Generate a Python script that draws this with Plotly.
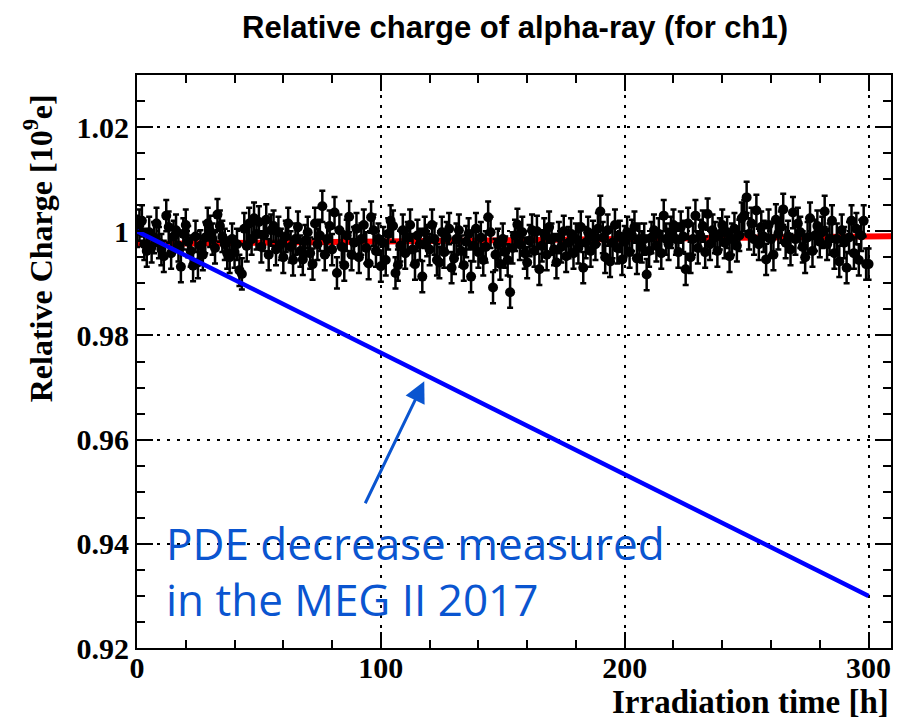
import plotly.graph_objects as go

# ---------------- data ----------------
time_h = list(range(0, 301))
charge = [
    # 0-9
    1.0000, 1.0012, 1.0020, 0.9975, 0.9962, 0.9998, 0.9970, 0.9988, 1.0015, 0.9978,
    # 10-19
    0.9965, 0.9952, 1.0030, 1.0008, 0.9958, 0.9990, 1.0002, 0.9972, 0.9932, 0.9995,
    # 20-29
    1.0012, 0.9980, 0.9962, 0.9934, 0.9990, 0.9940, 0.9972, 0.9955, 0.9988, 1.0015,
    # 30-39
    1.0000, 0.9985, 0.9968, 1.0032, 1.0010, 0.9990, 0.9975, 0.9958, 0.9950, 0.9985,
    # 40-49
    0.9960, 0.9975, 0.9925, 0.9918, 1.0005, 0.9972, 1.0015, 0.9985, 1.0025, 0.9995,
    # 50-59
    1.0018, 0.9970, 0.9992, 1.0022, 0.9955, 1.0002, 1.0010, 0.9965, 0.9998, 0.9975,
    # 60-69
    0.9950, 0.9990, 1.0015, 0.9970, 0.9945, 0.9985, 1.0008, 0.9962, 0.9946, 0.9982,
    # 70-79
    0.9998, 0.9958, 0.9937, 1.0015, 0.9975, 0.9992, 1.0048, 0.9955, 0.9985, 1.0010,
    # 80-89
    0.9965, 1.0036, 0.9920, 1.0002, 0.9970, 0.9935, 0.9992, 1.0028, 0.9955, 0.9978,
    # 90-99
    1.0005, 0.9950, 0.9985, 1.0012, 0.9968, 0.9938, 1.0027, 1.0002, 0.9962, 0.9985,
    # 100-109
    0.9933, 0.9978, 0.9945, 0.9995, 1.0020, 1.0010, 0.9920, 0.9935, 0.9972, 1.0002,
    # 110-119
    0.9958, 0.9988, 1.0012, 0.9965, 0.9937, 0.9992, 0.9975, 0.9913, 0.9998, 0.9982,
    # 120-129
    0.9965, 1.0012, 0.9985, 0.9945, 0.9940, 0.9998, 0.9960, 0.9988, 1.0005, 0.9930,
    # 130-139
    0.9948, 0.9985, 1.0002, 0.9962, 0.9935, 0.9980, 0.9995, 0.9913, 0.9972, 1.0005,
    # 140-149
    0.9960, 0.9988, 0.9945, 0.9970, 1.0027, 0.9998, 0.9892, 0.9955, 0.9975, 0.9937,
    # 150-159
    0.9985, 0.9960, 0.9945, 0.9883, 0.9968, 0.9992, 1.0013, 0.9975, 0.9998, 0.9958,
    # 160-169
    0.9940, 0.9982, 1.0002, 0.9962, 1.0000, 0.9927, 0.9972, 0.9995, 0.9955, 1.0008,
    # 170-179
    0.9985, 0.9965, 0.9940, 0.9988, 0.9970, 1.0000, 0.9952, 0.9978, 0.9995, 0.9958,
    # 180-189
    0.9985, 0.9968, 1.0008, 0.9930, 0.9978, 0.9998, 0.9962, 0.9990, 0.9975, 1.0005,
    # 190-199
    1.0038, 0.9988, 0.9950, 1.0002, 0.9942, 0.9978, 1.0012, 0.9968, 0.9990, 0.9946,
    # 200-209
    0.9980, 0.9998, 0.9960, 0.9992, 1.0008, 0.9948, 0.9985, 0.9970, 0.9985, 0.9917,
    # 210-219
    0.9962, 0.9988, 1.0002, 0.9972, 0.9995, 0.9958, 1.0030, 0.9985, 0.9975, 0.9998,
    # 220-229
    1.0012, 0.9985, 0.9960, 1.0008, 0.9990, 0.9927, 1.0015, 0.9950, 0.9985, 1.0030,
    # 230-239
    0.9968, 0.9992, 1.0010, 0.9960, 1.0033, 0.9975, 1.0002, 0.9988, 0.9962, 0.9995,
    # 240-249
    1.0012, 0.9978, 0.9998, 0.9952, 0.9985, 1.0005, 0.9972, 0.9992, 1.0025, 1.0030,
    # 250-259
    1.0065, 0.9995, 1.0015, 0.9985, 1.0040, 0.9975, 1.0008, 0.9990, 0.9946, 1.0012,
    # 260-269
    0.9985, 0.9955, 1.0022, 0.9995, 1.0008, 1.0042, 0.9978, 0.9990, 0.9965, 1.0036,
    # 270-279
    0.9985, 1.0015, 0.9998, 0.9970, 0.9950, 0.9988, 1.0025, 0.9962, 0.9992, 1.0010,
    # 280-289
    0.9980, 0.9998, 1.0038, 0.9975, 0.9985, 1.0020, 0.9958, 0.9985, 0.9942, 1.0002,
    # 290-299
    0.9978, 0.9930, 0.9988, 1.0020, 0.9958, 1.0005, 0.9945, 0.9992, 1.0020, 0.9937,
    # 300
    0.9937,
]
charge_err = [0.0030] * len(charge)

# linear fit to the data (red)
fit_x = [0.0, 309.2]
fit_y = [0.99755, 0.99905]

# PDE decrease measured in MEG II 2017 (blue)
pde_x = [0.0, 300.0]
pde_y = [1.000, 0.930]

x_range = [0, 309.2]
y_range = [0.92, 1.03]
x_tickvals = [0, 100, 200, 300]
x_ticktext = ["0", "100", "200", "300"]
y_tickvals = [0.92, 0.94, 0.96, 0.98, 1.00, 1.02]
y_ticktext = ["0.92", "0.94", "0.96", "0.98", "1", "1.02"]

title_text = "Relative charge of alpha-ray (for ch1)"
xtitle_text = "Irradiation time [h]"
ytitle_text = "Relative Charge [10<sup>9</sup>e]"
note_line1 = "PDE decrease measured"
note_line2 = "in the MEG II 2017"

# ---------------- figure ----------------
SERIF = "Liberation Serif, Times New Roman, serif"
NOTE_BLUE = "#0a55d0"

fig = go.Figure()

fig.add_trace(go.Scatter(
    x=fit_x, y=fit_y, mode="lines",
    line=dict(color="#ff0000", width=6),
    showlegend=False, hoverinfo="skip",
))

fig.add_trace(go.Scatter(
    x=time_h, y=charge, mode="markers",
    marker=dict(color="black", size=10),
    error_y=dict(type="data", array=charge_err, visible=True,
                 color="black", thickness=2.5, width=3),
    showlegend=False,
))

fig.add_trace(go.Scatter(
    x=pde_x, y=pde_y, mode="lines",
    line=dict(color="#0000ff", width=4.5),
    showlegend=False, hoverinfo="skip",
))

axis_common = dict(
    showline=True, linecolor="black", linewidth=2, mirror="ticks",
    ticks="inside", tickcolor="black", tickwidth=2,
    showgrid=True, gridcolor="black", gridwidth=2, griddash="3px,7px",
    zeroline=False,
    tickfont=dict(family=SERIF, size=30, color="black", weight="bold"),
)

fig.update_xaxes(
    range=x_range, tickmode="array", tickvals=x_tickvals, ticktext=x_ticktext,
    ticklen=16, ticklabelstandoff=-8,
    minor=dict(dtick=20, tick0=0, ticks="inside", ticklen=8,
               tickcolor="black", tickwidth=2, showgrid=False),
    **axis_common,
)
fig.update_yaxes(
    range=y_range, tickmode="array", tickvals=y_tickvals, ticktext=y_ticktext,
    ticklen=16,
    minor=dict(dtick=0.005, tick0=0.92, ticks="inside", ticklen=8,
               tickcolor="black", tickwidth=2, showgrid=False),
    **axis_common,
)

fig.update_layout(
    width=904, height=721,
    margin=dict(l=137, r=11, t=75, b=73),
    paper_bgcolor="white", plot_bgcolor="white",
    showlegend=False,
)

# title
fig.add_annotation(
    text=title_text, xref="paper", yref="paper",
    x=0.501, y=(648 - 28) / 573, xanchor="center", yanchor="middle",
    showarrow=False,
    font=dict(family="Liberation Sans, Arial, sans-serif", size=31,
              color="black", weight="bold"),
)
# x title
fig.add_annotation(
    text=xtitle_text, xref="paper", yref="paper",
    x=1.0, y=(648 - 702) / 573, xanchor="right", yanchor="middle",
    showarrow=False,
    font=dict(family=SERIF, size=33, color="black", weight="bold"),
)
# y title
fig.add_annotation(
    text=ytitle_text, xref="paper", yref="paper",
    x=(38 - 137) / 756, y=(648 - 248) / 573, xanchor="center", yanchor="middle",
    textangle=-90, showarrow=False,
    font=dict(family=SERIF, size=32, color="black", weight="bold"),
)

# arrow
fig.add_annotation(
    x=117.8, y=0.9712, xref="x", yref="y",
    ax=93.3, ay=0.9475, axref="x", ayref="y",
    text="", showarrow=True, arrowhead=2, arrowsize=1.4,
    arrowwidth=3, arrowcolor=NOTE_BLUE,
)
# note text
fig.add_annotation(
    text=note_line1, xref="x", yref="y",
    x=11.0, y=1 - (543 - 232) / 5200, xanchor="left", yanchor="middle",
    showarrow=False,
    font=dict(family="Open Sans, Noto Sans, sans-serif", size=44, color=NOTE_BLUE),
)
fig.add_annotation(
    text=note_line2, xref="x", yref="y",
    x=11.0, y=1 - (599 - 232) / 5200, xanchor="left", yanchor="middle",
    showarrow=False,
    font=dict(family="Open Sans, Noto Sans, sans-serif", size=44, color=NOTE_BLUE),
)

fig.write_html("out.html")
